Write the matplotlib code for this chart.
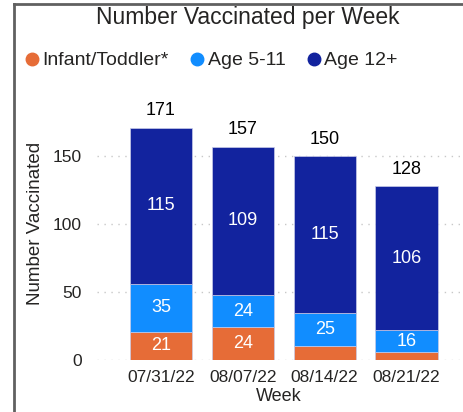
import numpy as np
import matplotlib
matplotlib.use("Agg")

import matplotlib.pyplot as plt
from matplotlib.lines import Line2D

weeks = ["07/31/22", "08/07/22", "08/14/22", "08/21/22"]
infant = [21, 24, 10, 6]
age_5_11 = [35, 24, 25, 16]
age_12 = [115, 109, 115, 106]
totals = [171, 157, 150, 128]

series_names = ["Infant/Toddler*", "Age 5-11", "Age 12+"]
colors = ["#E66C37", "#118DFF", "#12239E"]

plt.rcParams["font.family"] = ["Liberation Sans", "DejaVu Sans"]
text_col = "#252423"

fig = plt.figure(figsize=(4.64, 4.12), dpi=100)
ax = fig.add_axes([0.209, 0.126, 0.782, 0.594])

x = np.arange(len(weeks))
width = 0.76
bottom = np.zeros(len(weeks))
for vals, name, col in zip([infant, age_5_11, age_12], series_names, colors):
    vals = np.array(vals)
    ax.bar(x, vals, width, bottom=bottom, color=col, label=name,
           edgecolor="#c8cbe8", linewidth=0.5, zorder=3)
    # white labels inside segments that are tall enough
    for xi, v, b in zip(x, vals, bottom):
        if v >= 15:
            ax.text(xi, b + v / 2, str(v), ha="center", va="center",
                    color="white", fontsize=13, zorder=4)
    bottom += vals

# totals above bars
for xi, t in zip(x, totals):
    ax.text(xi, t + 6, str(t), ha="center", va="bottom", color="black", fontsize=13)

ax.set_ylim(0, 180)
ax.set_xlim(-0.78, 3.65)
ax.set_yticks([0, 50, 100, 150])
ax.set_xticks(x)
ax.set_xticklabels(weeks)
ax.tick_params(axis="both", length=0, labelsize=12.5, labelcolor=text_col)
ax.tick_params(axis="y", pad=11)
ax.tick_params(axis="x", pad=7)
ax.grid(axis="y", color="#c8c8c8", linestyle=(0, (1, 4)), linewidth=1, zorder=0)
for s in ax.spines.values():
    s.set_visible(False)

ax.set_xlabel("Week", fontsize=13, color=text_col, labelpad=2)
ax.set_ylabel("Number Vaccinated", fontsize=13.5, color=text_col)
ax.yaxis.set_label_coords(-0.147, 0.56)

fig.text(0.535, 0.958, "Number Vaccinated per Week", ha="center", va="center",
         fontsize=16.5, color=text_col)

handles = [Line2D([0], [0], marker="o", linestyle="", markersize=9,
                  markerfacecolor=c, markeredgecolor=c) for c in colors]
fig.legend(handles, series_names, loc="center left", bbox_to_anchor=(0.045, 0.853),
           ncol=3, frameon=False, fontsize=14, handletextpad=0.0,
           columnspacing=0.9, handlelength=1.1, labelcolor=text_col,
           borderaxespad=0, borderpad=0)

# report frame (top and left edge)
fig.add_artist(Line2D([14 / 464, 1], [1 - 4 / 412, 1 - 4 / 412],
                      transform=fig.transFigure, color="#606060", linewidth=2))
fig.add_artist(Line2D([14 / 464, 14 / 464], [0, 1 - 4 / 412],
                      transform=fig.transFigure, color="#606060", linewidth=2))

fig.savefig("out.png", dpi=100)
